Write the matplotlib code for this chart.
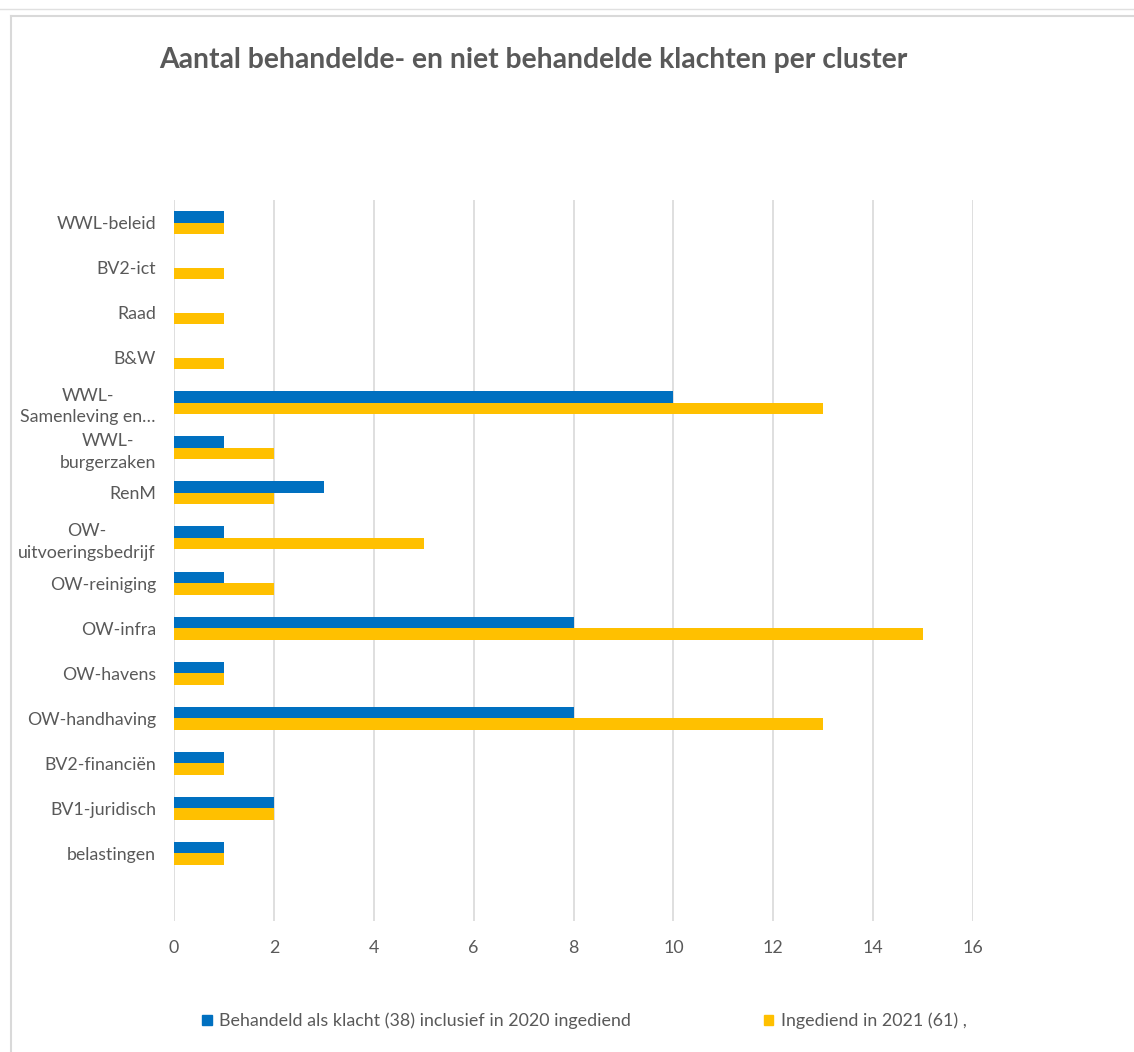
import matplotlib
matplotlib.use("Agg")
import matplotlib.pyplot as plt
from matplotlib.lines import Line2D
from matplotlib.patches import Patch
import numpy as np

# Categories listed bottom-to-top (as drawn on the y axis)
categories = ["belastingen", "BV1-juridisch", "BV2-financiën", "OW-handhaving",
              "OW-havens", "OW-infra", "OW-reiniging", "OW-\nuitvoeringsbedrijf",
              "RenM", "WWL-\nburgerzaken", "WWL-\nSamenleving en…", "B&W",
              "Raad", "BV2-ict", "WWL-beleid"]
behandeld = [1, 2, 1, 8, 1, 8, 1, 1, 3, 1, 10, 0, 0, 0, 1]
ingediend = [1, 2, 1, 13, 1, 15, 2, 5, 2, 2, 13, 1, 1, 1, 1]
x_ticks = [0, 2, 4, 6, 8, 10, 12, 14, 16]
title = "Aantal behandelde- en niet behandelde klachten per cluster"
label_blue = "Behandeld als klacht (38) inclusief in 2020 ingediend"
label_yellow = "Ingediend in 2021 (61) ,"

BLUE = "#0070C0"
YELLOW = "#FFC000"
TXT = "#595959"

plt.rcParams['font.family'] = ['Lato', 'DejaVu Sans']

W, H = 1134, 1052
fig = plt.figure(figsize=(W / 100, H / 100), dpi=100)

# Frame lines around chart area (screenshot edges)
fig.add_artist(Line2D([11 / W, 11 / W], [0, 1 - 16 / H], color="#D9D9D9", lw=1.5,
                      transform=fig.transFigure))
fig.add_artist(Line2D([11 / W, 1], [1 - 16 / H, 1 - 16 / H], color="#D9D9D9", lw=1.5,
                      transform=fig.transFigure))
fig.add_artist(Line2D([0, 1], [1 - 9 / H, 1 - 9 / H], color="#E0E0E0", lw=1,
                      transform=fig.transFigure))

left, right, top, bottom = 174, 973, 200, 921
ax = fig.add_axes([left / W, 1 - bottom / H, (right - left) / W, (bottom - top) / H])

y = np.arange(len(categories))
h = 0.255
ax.barh(y + h / 2, behandeld, height=h, color=BLUE, label=label_blue, zorder=3)
ax.barh(y - h / 2, ingediend, height=h, color=YELLOW, label=label_yellow, zorder=3)

ax.set_xlim(0, 16)
ax.set_ylim(-1.5, len(categories) - 0.5)
ax.set_xticks(x_ticks)
ax.set_xticklabels([str(t) for t in x_ticks])
ax.set_yticks(y)
ax.set_yticklabels(categories, multialignment="center", linespacing=1.4)

ax.grid(axis="x", color="#D9D9D9", lw=1.2, zorder=0)
for s in ax.spines.values():
    s.set_visible(False)
ax.tick_params(axis="both", length=0, colors=TXT, labelsize=12.8)
ax.tick_params(axis="y", pad=13)
ax.tick_params(axis="x", pad=14)

fig.text(533 / W, 1 - 60 / H, title, ha="center", va="center", fontsize=20.3,
         fontweight="bold", color=TXT)

handles = [Patch(color=BLUE), Patch(color=YELLOW)]
leg = fig.legend(handles, [label_blue, label_yellow], loc="center left",
                 bbox_to_anchor=(186 / W, 1 - 1021 / H), ncol=2, frameon=False,
                 fontsize=12.9, handlelength=0.55, handleheight=0.55, handletextpad=0.4,
                 columnspacing=7.4, labelcolor=TXT)

fig.savefig("out.png", dpi=100, facecolor="white")
